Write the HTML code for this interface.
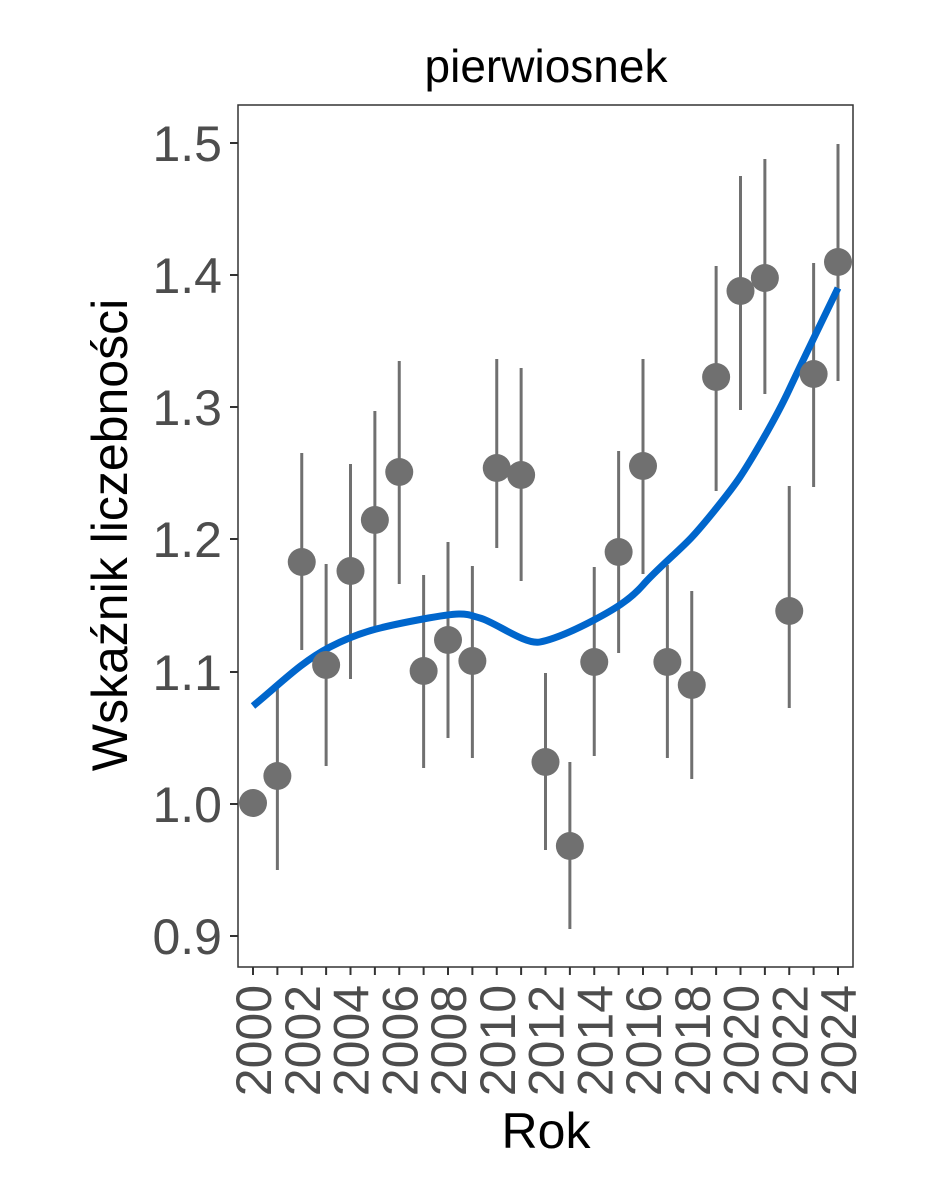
<!DOCTYPE html>
<html><head><meta charset="utf-8"><style>body{margin:0;background:#fff}</style></head><body>
<svg width="944" height="1181" xmlns="http://www.w3.org/2000/svg" font-family="Liberation Sans, sans-serif">
<rect width="944" height="1181" fill="#fff"/>
<rect x="238" y="105" width="615" height="862" fill="none" stroke="#333" stroke-width="1.5"/>
<g stroke="#333" stroke-width="2">
<line x1="230" y1="143" x2="238" y2="143"/><line x1="230" y1="275" x2="238" y2="275"/><line x1="230" y1="407" x2="238" y2="407"/><line x1="230" y1="539" x2="238" y2="539"/><line x1="230" y1="672" x2="238" y2="672"/><line x1="230" y1="804" x2="238" y2="804"/><line x1="230" y1="936" x2="238" y2="936"/>
</g>
<g font-size="50" fill="#4d4d4d" text-anchor="end">
<text x="222" y="161">1.5</text><text x="222" y="293">1.4</text><text x="222" y="425">1.3</text><text x="222" y="557">1.2</text><text x="222" y="690">1.1</text><text x="222" y="822">1.0</text><text x="222" y="954">0.9</text>
</g>
<g id="xt" stroke="#333" stroke-width="2"></g>
<g id="xl" font-size="50" fill="#4d4d4d"></g>
<text x="546" y="82" font-size="46" text-anchor="middle" fill="#000">pierwiosnek</text>
<text x="546" y="1148" font-size="50" text-anchor="middle" fill="#000">Rok</text>
<text transform="translate(127,535) rotate(-90)" font-size="50" text-anchor="middle" fill="#000">Wskaźnik liczebności</text>
<g id="bars" stroke="#707070" stroke-width="3"></g>
<path d="M253,706 C280,684 301,662 330,647 S380,627 423,619 S465,614 480,618 S525,645 540,642 S575,630 594,620 S630,600 643,585 S680,550 692,537 S730,492 740,477 S775,420 789,390 S825,315 838,288" fill="none" stroke="#0066cc" stroke-width="7"/>
<g id="pts" fill="#707070"></g>
<script>
var d=[[803,0,0],[776,685,870],[562,453,650],[665,564,766],[571,464,679],[520,411,630],[472,361,584],[671,575,768],[640,542,738],[661,566,758],[468,359,548],[475,368,581],[762,673,850],[846,762,929],[662,567,756],[552,451,653],[466,359,574],[662,565,758],[685,591,779],[377,266,491],[291,176,410],[278,159,394],[611,486,708],[374,263,487],[262,144,381]];
var ns="http://www.w3.org/2000/svg",b=document.getElementById('bars'),p=document.getElementById('pts'),xt=document.getElementById('xt'),xl=document.getElementById('xl');
function el(t,a,par){var e=document.createElementNS(ns,t);for(var k in a)e.setAttribute(k,a[k]);par.appendChild(e);return e;}
d.forEach(function(v,i){var x=253+i*24.375;
if(v[1])el('line',{x1:x,x2:x,y1:v[1],y2:v[2]},b);
el('circle',{cx:x,cy:v[0],r:14},p);
el('line',{x1:x,x2:x,y1:967,y2:975},xt);
if(i%2==0){var t=el('text',{transform:'translate('+(x+18)+',985) rotate(-90)','text-anchor':'end'},xl);t.textContent=2000+i;}
});
</script>
</svg>
</body></html>
